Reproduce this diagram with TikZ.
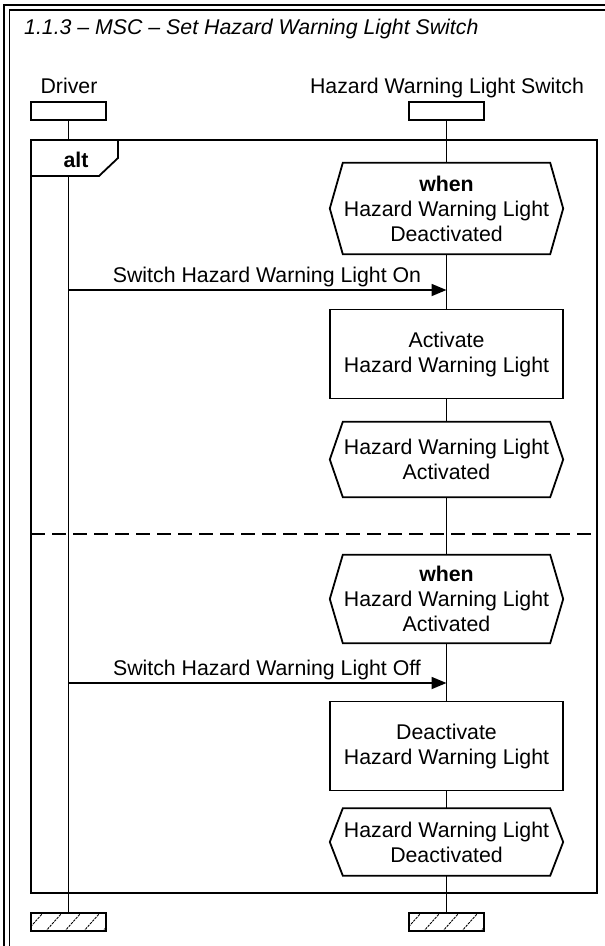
\documentclass[tikz,border=0pt]{standalone}
\usepackage{fontspec}
\setmainfont{Liberation Sans}
\usetikzlibrary{arrows.meta,calc}
\newcommand\hexdraw[1]{\draw[shapeline] ([xshift=13pt]#1.north west) -- ([xshift=-13pt]#1.north east) -- (#1.east) -- ([xshift=-13pt]#1.south east) -- ([xshift=13pt]#1.south west) -- (#1.west) -- cycle;}
\begin{document}
\begin{tikzpicture}[x=1pt,y=-1pt,
  txt/.style={font=\fontsize{21.3}{25}\selectfont, align=center, inner sep=0pt},
  shapeline/.style={line width=1.8pt, line join=miter},
  cond/.style={txt, minimum width=233pt},
  actbox/.style={txt, draw, line width=1.8pt, minimum width=233pt, minimum height=89pt},
  headbox/.style={draw, line width=1.8pt, minimum width=75pt, minimum height=18pt, inner sep=0pt},
  lifel/.style={line width=1.8pt},
  msg/.style={line width=1.8pt, -{Triangle[length=15pt,width=12pt]}},
  framel/.style={line width=1.8pt}]
\useasboundingbox (0,0) rectangle (605,946);
% outer double frame (cropped at right and bottom)
\draw[framel] (4,946) -- (4,5) -- (605,5);
\draw[framel] (9.5,946) -- (9.5,10) -- (605,10);
% title
\node[txt, font=\fontsize{21.3}{25}\selectfont\itshape, anchor=base west] (title) at (24,34) {1.1.3 – MSC – Set Hazard Warning Light Switch};
% instance heads
\node[txt, anchor=base] (drvlbl) at (69,93) {Driver};
\node[txt, anchor=base] (hwlslbl) at (447,93) {Hazard Warning Light Switch};
\node[headbox] (drvhead) at (68.5,111) {};
\node[headbox] (hwlshead) at (446.5,111) {};
% alt frame
\draw[line width=1.8pt] (31,140) rectangle (597,893);
\draw[line width=1.8pt] (31,140) -- (118,140) -- (118,158) -- (99,176) -- (31,176);
\node[txt, font=\fontsize{21.3}{25}\selectfont\bfseries] (altlbl) at (76,160) {alt};
\coordinate (alttop) at (68.5,140);
\coordinate (tabbot) at (68.5,176);
\draw[line width=1.6pt, dash pattern=on 14pt off 7pt] (31,534) -- (597,534);
% conditions / actions
\node[cond, minimum height=91pt] (c1) at (446.5,208.5) {\textbf{when}\\Hazard Warning Light\\Deactivated};
\hexdraw{c1}
\node[actbox] (a1) at (446.5,354) {Activate\\Hazard Warning Light};
\node[cond, minimum height=75pt] (c2) at (446.5,459.5) {Hazard Warning Light\\Activated};
\hexdraw{c2}
\node[cond, minimum height=88pt] (c3) at (446.5,599) {\textbf{when}\\Hazard Warning Light\\Activated};
\hexdraw{c3}
\node[actbox] (a2) at (446.5,746) {Deactivate\\Hazard Warning Light};
\node[cond, minimum height=67pt] (c4) at (446.5,842) {Hazard Warning Light\\Deactivated};
\hexdraw{c4}
% instance ends
\node[headbox] (drvfoot) at (68.5,922) {};
\node[headbox] (hwlsfoot) at (446.5,922) {};
\foreach \f in {drvfoot,hwlsfoot}{
  \begin{scope}
    \clip (\f.south west) rectangle (\f.north east);
    \foreach \k in {0,1,2,3,4}{
      \draw[line width=0.9pt, dash pattern=on 2.5pt off 1pt] ($(\f.south west)+(\k*19-4,0)$) -- ++(16,-18);
    }
  \end{scope}
}
% lifelines
\draw[lifel] (drvhead) -- (alttop);
\draw[lifel] (tabbot) -- (drvfoot);
\draw[lifel] (hwlshead) -- (c1.north);
\draw[lifel] (c1.south) -- (a1);
\draw[lifel] (a1) -- (c2);
\draw[lifel] (c2) -- (c3);
\draw[lifel] (c3) -- (a2);
\draw[lifel] (a2) -- (c4);
\draw[lifel] (c4) -- (hwlsfoot);
% messages
\coordinate (m1s) at (68.5,290);
\coordinate (m1e) at (446.5,290);
\draw[msg] (m1s) -- (m1e);
\node[txt, anchor=base] (m1lbl) at (267,282) {Switch Hazard Warning Light On};
\coordinate (m2s) at (68.5,683);
\coordinate (m2e) at (446.5,683);
\draw[msg] (m2s) -- (m2e);
\node[txt, anchor=base] (m2lbl) at (267,675) {Switch Hazard Warning Light Off};
\end{tikzpicture}
\end{document}
